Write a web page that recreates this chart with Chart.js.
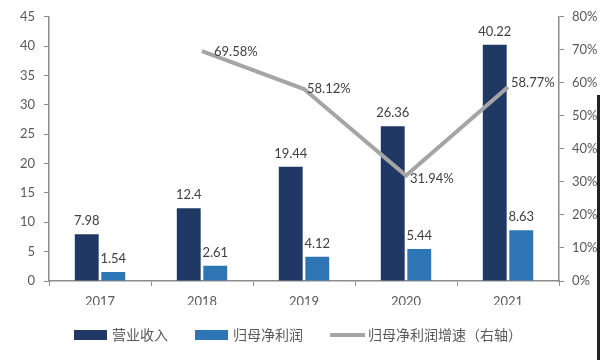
<!DOCTYPE html>
<html>
<head>
<meta charset="utf-8">
<script src="https://cdn.jsdelivr.net/npm/chart.js@4/dist/chart.umd.min.js"></script>
<style>
html,body{margin:0;padding:0;background:#fff;}
#wrap{position:relative;width:601px;height:360px;}
#edge{position:absolute;left:597px;top:95px;width:3px;height:265px;background:#222;}
</style>
</head>
<body>
<div id="wrap"><canvas id="c" width="601" height="360"></canvas><div id="edge"></div></div>
<script>
const categories = ['2017','2018','2019','2020','2021'];
const revenue = [7.98, 12.4, 19.44, 26.36, 40.22];
const netProfit = [1.54, 2.61, 4.12, 5.44, 8.63];
const profitGrowth = [null, 69.58, 58.12, 31.94, 58.77];
const leftTicks = [0,5,10,15,20,25,30,35,40,45];
const rightTicks = [0,10,20,30,40,50,60,70,80];
const seriesNames = ['营业收入','归母净利润','归母净利润增速（右轴）'];

const NUM_FONT = '13px Lato, "Liberation Sans", sans-serif';
const CJK_FONT = '14px "Noto Sans CJK SC", sans-serif';
const LABEL_COLOR = '#404040';
const AXIS_COLOR = '#8c8c8c';

const labelPlugin = {
  id: 'labels',
  afterDatasetsDraw(chart) {
    const ctx = chart.ctx;
    ctx.save();
    ctx.font = NUM_FONT;
    ctx.fillStyle = LABEL_COLOR;
    [1,2].forEach(di => {
      const meta = chart.getDatasetMeta(di);
      const ds = chart.data.datasets[di];
      meta.data.forEach((el, i) => {
        ctx.textAlign = 'center';
        ctx.textBaseline = 'alphabetic';
        ctx.fillText(String(ds.data[i]), el.x, el.y - 9);
      });
    });
    const lm = chart.getDatasetMeta(0);
    const lds = chart.data.datasets[0];
    const dx = [0, 12, 3, 4, 3];
    const dy = [0, 1, 0, 3, -4];
    lm.data.forEach((el, i) => {
      const v = lds.data[i];
      if (v === null) return;
      ctx.textAlign = 'left';
      ctx.textBaseline = 'middle';
      ctx.fillText(v.toFixed(2) + '%', el.x + dx[i], el.y + dy[i]);
    });
    ctx.restore();
  },
  afterDraw(chart) {
    const ctx = chart.ctx;
    ctx.save();
    const y = 335;
    ctx.fillStyle = '#1F3864';
    ctx.fillRect(74, y - 5, 33, 10);
    ctx.fillStyle = '#2E75B6';
    ctx.fillRect(195, y - 5, 33, 10);
    ctx.strokeStyle = '#A5A5A5';
    ctx.lineWidth = 4;
    ctx.beginPath(); ctx.moveTo(330, y); ctx.lineTo(365, y); ctx.stroke();
    ctx.font = CJK_FONT;
    ctx.fillStyle = '#595959';
    ctx.textAlign = 'left';
    ctx.textBaseline = 'middle';
    ctx.fillText(seriesNames[0], 112, y);
    ctx.fillText(seriesNames[1], 233, y);
    ctx.fillText(seriesNames[2], 368, y);
    ctx.restore();
  }
};

new Chart(document.getElementById('c'), {
  data: {
    labels: categories,
    datasets: [
      { type: 'line', label: seriesNames[2], data: profitGrowth, yAxisID: 'yR',
        borderColor: '#A5A5A5', borderWidth: 4, pointRadius: 0, tension: 0, order: 0, spanGaps: false },
      { type: 'bar', label: seriesNames[0], data: revenue, yAxisID: 'y',
        backgroundColor: '#1F3864', categoryPercentage: 0.52, barPercentage: 0.9, order: 1 },
      { type: 'bar', label: seriesNames[1], data: netProfit, yAxisID: 'y',
        backgroundColor: '#2E75B6', categoryPercentage: 0.52, barPercentage: 0.9, order: 1 }
    ]
  },
  options: {
    responsive: false,
    animation: false,
    layout: { padding: { top: 16, bottom: 55, left: 0, right: 0 } },
    plugins: { legend: { display: false }, tooltip: { enabled: false } },
    scales: {
      x: {
        grid: { offset: true, drawOnChartArea: false, drawTicks: true, tickLength: 5, color: AXIS_COLOR },
        border: { display: true, color: AXIS_COLOR, width: 1.5 },
        ticks: { color: '#595959', font: { family: 'Lato, "Liberation Sans", sans-serif', size: 13 }, padding: 8, maxRotation: 0 },
        afterFit(s) { s.height = 24; }
      },
      y: {
        position: 'left', min: 0, max: 45,
        afterBuildTicks(s) { s.ticks = leftTicks.map(v => ({ value: v })); },
        grid: { drawOnChartArea: false, drawTicks: true, tickLength: 5, color: AXIS_COLOR },
        border: { display: true, color: AXIS_COLOR, width: 1.5 },
        ticks: { color: '#595959', font: { family: 'Lato, "Liberation Sans", sans-serif', size: 13 }, padding: 9 },
        afterFit(s) { s.width = 49; }
      },
      yR: {
        position: 'right', min: 0, max: 80,
        afterBuildTicks(s) { s.ticks = rightTicks.map(v => ({ value: v })); },
        grid: { drawOnChartArea: false, drawTicks: true, tickLength: 5, color: AXIS_COLOR },
        border: { display: true, color: AXIS_COLOR, width: 1.5 },
        ticks: { color: '#595959', font: { family: 'Lato, "Liberation Sans", sans-serif', size: 13 }, padding: 8, callback: v => v + '%' },
        afterFit(s) { s.width = 42; }
      }
    }
  },
  plugins: [labelPlugin]
});
</script>
</body>
</html>
